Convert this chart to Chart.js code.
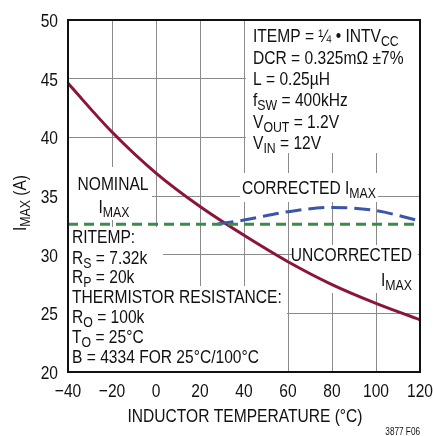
<!DOCTYPE html>
<html>
<head>
<meta charset="utf-8">
<script src="https://cdn.jsdelivr.net/npm/chart.js@4/dist/chart.umd.min.js"></script>
<style>
  html, body { margin: 0; padding: 0; background: #fff; }
  #wrap { width: 433px; height: 436px; }
</style>
</head>
<body>
<div id="wrap"><canvas id="wykres" width="433" height="436"></canvas></div>
<script>
// brak czcionki "narrow" - zwykly Liberation Sans scisniety w poziomie
const FONT = '"Liberation Sans", Arimo, sans-serif';
const SCIS = 0.82;

// temperatura cewki (°C) i prad IMAX (A)
const tempNieskorygowany = [-40, -20, 0, 20, 40, 60, 80, 100, 120];
const imaxNieskorygowany = [44.6, 40.45, 36.95, 34.1, 31.65, 29.4, 27.45, 25.85, 24.45];

const tempSkorygowany = [28, 40, 60, 80, 100, 120];
const imaxSkorygowany = [32.62, 32.95, 33.66, 34.03, 33.75, 32.87];

const tempNominalny = [-40, 120];
const imaxNominalny = [32.6, 32.6];

const xTicks = [-40, -20, 0, 20, 40, 60, 80, 100, 120];
const yTicks = [20, 25, 30, 35, 40, 45, 50];

const punkty = (xs, ys) => xs.map((x, i) => ({ x: x, y: ys[i] }));

// tekst z indeksami dolnymi: [['I'], ['MAX', true]]
function tekst(ctx, czesci, x, y, align, size) {
  const s = size || 19;
  const sub = Math.round(s * 0.78);
  let w = 0;
  czesci.forEach(c => {
    ctx.font = (c[1] ? sub : s) + 'px ' + FONT;
    w += ctx.measureText(c[0]).width * SCIS;
  });
  let px = align === 'right' ? x - w : align === 'center' ? x - w / 2 : x;
  ctx.textAlign = 'left';
  ctx.textBaseline = 'alphabetic';
  czesci.forEach(c => {
    ctx.font = (c[1] ? sub : s) + 'px ' + FONT;
    ctx.save();
    ctx.translate(px, y + (c[1] ? 4 : 0));
    ctx.scale(SCIS, 1);
    ctx.fillText(c[0], 0, 0);
    ctx.restore();
    px += ctx.measureText(c[0]).width * SCIS;
  });
  return w;
}

const opisy = {
  id: 'opisy',
  beforeDatasetsDraw(chart) {
    const ctx = chart.ctx;
    ctx.save();
    ctx.fillStyle = '#fff';
    // biale tla pod napisami
    ctx.fillRect(246, 21, 173, 132);
    ctx.fillRect(69, 167, 83, 53);
    ctx.fillRect(240, 173, 138, 29);
    ctx.fillRect(69, 227, 94, 59);
    ctx.fillRect(69, 286, 218, 85);
    ctx.fillRect(292, 245, 126, 48);

    ctx.fillStyle = '#111';
    const L = 253;
    tekst(ctx, [['ITEMP = ¼ • INTV'], ['CC', true]], L, 42);
    tekst(ctx, [['DCR = 0.325mΩ ±7%']], L, 64);
    tekst(ctx, [['L = 0.25µH']], L, 85);
    tekst(ctx, [['f'], ['SW', true], [' = 400kHz']], L, 106);
    tekst(ctx, [['V'], ['OUT', true], [' = 1.2V']], L, 128);
    tekst(ctx, [['V'], ['IN', true], [' = 12V']], L, 149);

    tekst(ctx, [['NOMINAL']], 113, 190, 'center');
    tekst(ctx, [['I'], ['MAX', true]], 114, 213, 'center');

    tekst(ctx, [['CORRECTED I'], ['MAX', true]], 242, 194);

    const R = 72;
    tekst(ctx, [['RITEMP:']], R, 243);
    tekst(ctx, [['R'], ['S', true], [' = 7.32k']], R, 264);
    tekst(ctx, [['R'], ['P', true], [' = 20k']], R, 283);
    tekst(ctx, [['THERMISTOR RESISTANCE:']], R, 303);
    tekst(ctx, [['R'], ['O', true], [' = 100k']], R, 323);
    tekst(ctx, [['T'], ['O', true], [' = 25°C']], R, 343);
    tekst(ctx, [['B = 4334 FOR 25°C/100°C']], R, 363);

    tekst(ctx, [['UNCORRECTED']], 412, 261, 'right');
    tekst(ctx, [['I'], ['MAX', true]], 412, 286, 'right');
    ctx.restore();
  },
  afterDatasetsDraw(chart) {
    const ctx = chart.ctx;
    const a = chart.chartArea;
    ctx.save();
    ctx.strokeStyle = '#111';
    ctx.lineWidth = 2;
    ctx.strokeRect(a.left, a.top, a.right - a.left, a.bottom - a.top);
    ctx.restore();
  },
  afterDraw(chart) {
    const ctx = chart.ctx;
    const a = chart.chartArea;
    const sx = chart.scales.x;
    const sy = chart.scales.y;
    ctx.save();
    ctx.fillStyle = '#111';
    // opisy podzialek ze skal wykresu
    sx.ticks.forEach(t => {
      const lab = String(t.value).replace('-', '−');
      tekst(ctx, [[lab]], sx.getPixelForValue(t.value), a.bottom + 25, 'center');
    });
    sy.ticks.forEach(t => {
      tekst(ctx, [[String(t.value)]], a.left - 10, sy.getPixelForValue(t.value) + 7, 'right');
    });
    tekst(ctx, [['INDUCTOR TEMPERATURE (°C)']], (a.left + a.right) / 2 + 1, 422, 'center');
    tekst(ctx, [['3877 F06']], 420, 435, 'right', 10);
    // tytul osi Y
    ctx.translate(26, 203);
    ctx.rotate(-Math.PI / 2);
    tekst(ctx, [['I'], ['MAX', true], [' (A)']], 0, 0, 'center');
    ctx.restore();
  }
};

new Chart(document.getElementById('wykres').getContext('2d'), {
  type: 'line',
  data: {
    datasets: [
      {
        data: punkty(tempNominalny, imaxNominalny),
        borderColor: '#3d8b4b',
        borderWidth: 3,
        borderDash: [10, 6],
        pointRadius: 0,
        tension: 0
      },
      {
        data: punkty(tempSkorygowany, imaxSkorygowany),
        borderColor: '#3a56ab',
        borderWidth: 3,
        borderDash: [16, 7],
        pointRadius: 0,
        cubicInterpolationMode: 'monotone'
      },
      {
        data: punkty(tempNieskorygowany, imaxNieskorygowany),
        borderColor: '#8a1538',
        borderWidth: 3,
        pointRadius: 0,
        cubicInterpolationMode: 'monotone'
      }
    ]
  },
  options: {
    responsive: false,
    animation: false,
    events: [],
    layout: { padding: { left: 0, right: 13, top: 20, bottom: 0 } },
    plugins: { legend: { display: false }, tooltip: { enabled: false } },
    scales: {
      x: {
        type: 'linear',
        min: -40,
        max: 120,
        afterBuildTicks: s => { s.ticks = xTicks.map(v => ({ value: v })); },
        afterFit: s => { s.height = 64; },
        grid: { color: '#8a8a8a', lineWidth: 1, drawTicks: false },
        border: { display: false },
        ticks: { display: false }
      },
      y: {
        min: 20,
        max: 50,
        afterBuildTicks: s => { s.ticks = yTicks.map(v => ({ value: v })); },
        afterFit: s => { s.width = 68; },
        grid: { color: '#8a8a8a', lineWidth: 1, drawTicks: false },
        border: { display: false },
        ticks: { display: false }
      }
    }
  },
  plugins: [opisy]
});
</script>
</body>
</html>
